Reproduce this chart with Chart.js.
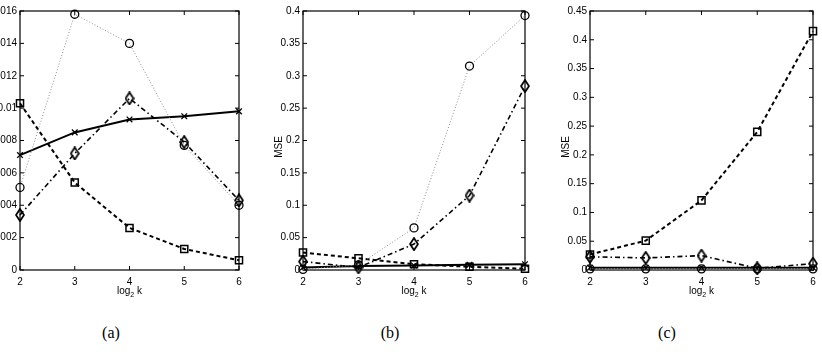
<!DOCTYPE html>
<html>
<head>
<meta charset="utf-8">
<script src="https://cdn.jsdelivr.net/npm/chart.js@4"></script>
<style>
  body { margin: 0; width: 822px; height: 356px; background: #fff; position: relative; overflow: hidden; }
  canvas { position: absolute; top: 0; }
  .cap { position: absolute; top: 324px; font: 16px "Liberation Serif", serif; transform: translateX(-50%); }
</style>
</head>
<body>
<canvas id="ca" style="left:-30px" width="281" height="300"></canvas>
<canvas id="cb" style="left:270px" width="267" height="300"></canvas>
<canvas id="cc" style="left:557px" width="268" height="300"></canvas>
<div class="cap" style="left:111px">(a)</div>
<div class="cap" style="left:390px">(b)</div>
<div class="cap" style="left:667px">(c)</div>
<script>
// x values (log2 k)
const logK = [2, 3, 4, 5, 6];

// panel (a)
const aCircle  = [0.0051, 0.0158, 0.0140, 0.0077, 0.0040];
const aCross   = [0.0071, 0.0085, 0.0093, 0.0095, 0.0098];
const aDiamond = [0.0034, 0.0072, 0.0106, 0.0079, 0.0043];
const aSquare  = [0.0103, 0.0054, 0.0026, 0.0013, 0.0006];

// panel (b)
const bCircle  = [0.001, 0.008, 0.065, 0.315, 0.393];
const bDiamond = [0.013, 0.004, 0.040, 0.115, 0.284];
const bSquare  = [0.027, 0.018, 0.009, 0.005, 0.002];
const bCross   = [0.004, 0.006, 0.007, 0.008, 0.009];

// panel (c)
const cSquare  = [0.027, 0.051, 0.121, 0.240, 0.415];
const cDiamond = [0.023, 0.021, 0.025, 0.003, 0.011];
const cCross   = [0.004, 0.004, 0.004, 0.004, 0.004];
const cCircle  = [0.002, 0.002, 0.002, 0.002, 0.002];

const tickFont = { family: "'Liberation Sans', Arial", size: 10 };

function pts(vals) {
  return vals.map((v, i) => ({ x: logK[i], y: v }));
}

// tall thin diamond like matlab's 'd' marker
const diamond = document.createElement('canvas');
diamond.width = 10; diamond.height = 14;
(function () {
  const g = diamond.getContext('2d');
  g.strokeStyle = '#000'; g.lineWidth = 1.8;
  g.beginPath();
  g.moveTo(5, 1); g.lineTo(9, 7); g.lineTo(5, 13); g.lineTo(1, 7); g.closePath();
  g.stroke();
})();

// line styles shared by the three panels
function circleSet(vals) {
  return { data: pts(vals), borderColor: '#8c8c8c', borderWidth: 1, borderDash: [1, 2],
    pointStyle: 'circle', pointRadius: 4, pointBorderColor: '#000', pointBorderWidth: 1.3,
    pointBackgroundColor: 'rgba(0,0,0,0)' };
}
function crossSet(vals) {
  return { data: pts(vals), borderColor: '#000', borderWidth: 2,
    pointStyle: 'crossRot', pointRadius: 4, pointBorderColor: '#000', pointBorderWidth: 1.3 };
}
function diamondSet(vals) {
  return { data: pts(vals), borderColor: '#000', borderWidth: 1.6, borderDash: [5, 3, 1.5, 3],
    pointStyle: diamond, pointRadius: 5 };
}
function squareSet(vals) {
  return { data: pts(vals), borderColor: '#000', borderWidth: 2, borderDash: [4, 3],
    pointStyle: 'rect', pointRadius: 5, pointBorderColor: '#000', pointBorderWidth: 1.5,
    pointBackgroundColor: 'rgba(0,0,0,0)' };
}

// box round the plot with MATLAB style inward ticks, plus axis titles
const frame = {
  id: 'frame',
  beforeDatasetsDraw(chart) {
    const { ctx, chartArea: a, scales } = chart;
    ctx.save();
    ctx.strokeStyle = '#000';
    ctx.lineWidth = 1.2;
    ctx.strokeRect(a.left, a.top, a.right - a.left, a.bottom - a.top);
    ctx.lineWidth = 1;
    ctx.beginPath();
    scales.y.ticks.forEach(t => {
      const y = scales.y.getPixelForValue(t.value);
      ctx.moveTo(a.left, y); ctx.lineTo(a.left + 4, y);
      ctx.moveTo(a.right, y); ctx.lineTo(a.right - 4, y);
    });
    scales.x.ticks.forEach(t => {
      const x = scales.x.getPixelForValue(t.value);
      ctx.moveTo(x, a.bottom); ctx.lineTo(x, a.bottom - 4);
      ctx.moveTo(x, a.top); ctx.lineTo(x, a.top + 4);
    });
    ctx.stroke();
    ctx.restore();
  },
  afterDraw(chart, args, opts) {
    const { ctx, chartArea: a } = chart;
    ctx.save();
    ctx.fillStyle = '#000';
    ctx.textBaseline = 'alphabetic';
    const big = "10px 'Liberation Sans', Arial";
    const small = "7px 'Liberation Sans', Arial";
    // x axis title: log with subscript 2, then k
    ctx.font = big;
    const w1 = ctx.measureText('log').width;
    const w3 = ctx.measureText(' k').width;
    ctx.font = small;
    const w2 = ctx.measureText('2').width;
    let x = (a.left + a.right) / 2 - (w1 + w2 + w3) / 2;
    const base = 294;
    ctx.font = big; ctx.fillText('log', x, base); x += w1;
    ctx.font = small; ctx.fillText('2', x, base + 3); x += w2;
    ctx.font = big; ctx.fillText(' k', x, base);
    // y axis title
    if (opts.yTitle) {
      ctx.translate(12, 147);
      ctx.rotate(-Math.PI / 2);
      ctx.textAlign = 'center';
      ctx.font = big;
      ctx.fillText(opts.yTitle, 0, 0);
    }
    ctx.restore();
  }
};

function makeChart(id, sets, yMax, yStep, yWidth, yTitle) {
  return new Chart(document.getElementById(id), {
    type: 'line',
    data: { datasets: sets },
    plugins: [frame],
    options: {
      responsive: false,
      animation: false,
      clip: false,
      layout: { padding: { top: 11, right: 12, left: 0, bottom: 0 } },
      plugins: { legend: { display: false }, tooltip: { enabled: false }, frame: { yTitle: yTitle } },
      elements: { line: { tension: 0, fill: false } },
      scales: {
        x: {
          type: 'linear', min: 2, max: 6,
          grid: { display: false, drawTicks: false }, border: { display: false },
          ticks: { stepSize: 1, padding: 6, color: '#000', font: tickFont, maxRotation: 0 },
          afterFit: s => { s.height = 30; }
        },
        y: {
          min: 0, max: yMax,
          grid: { display: false, drawTicks: false }, border: { display: false },
          ticks: { stepSize: yStep, padding: 3, color: '#000', font: tickFont,
            callback: v => String(+v.toFixed(4)) },
          afterFit: s => { s.width = yWidth; }
        }
      }
    }
  });
}

makeChart('ca', [circleSet(aCircle), diamondSet(aDiamond), squareSet(aSquare), crossSet(aCross)],
  0.016, 0.002, 50, null);
makeChart('cb', [circleSet(bCircle), diamondSet(bDiamond), squareSet(bSquare), crossSet(bCross)],
  0.4, 0.05, 33, 'MSE');
makeChart('cc', [circleSet(cCircle), crossSet(cCross), diamondSet(cDiamond), squareSet(cSquare)],
  0.45, 0.05, 33, 'MSE');
</script>
</body>
</html>
